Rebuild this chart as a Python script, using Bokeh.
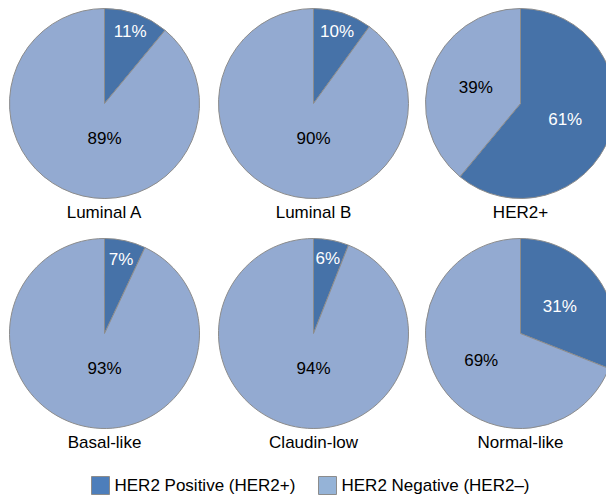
import math
from bokeh.plotting import figure
from bokeh.models import Range1d
from bokeh.core.properties import value
from bokeh.embed import file_html
from bokeh.resources import INLINE

# ---- data ----
subtypes = ["Luminal A", "Luminal B", "HER2+", "Basal-like", "Claudin-low", "Normal-like"]
her2_positive = [11, 10, 61, 7, 6, 31]
her2_negative = [89, 90, 39, 93, 94, 69]
series_names = ["HER2 Positive (HER2+)", "HER2 Negative (HER2\u2013)"]

# ---- style ----
DARK = "#4672A8"
LIGHT = "#93AAD1"
LEG_DARK = "#4D7EBB"
LEG_LIGHT = "#95B3D7"
EDGE = "#8C8C8C"
FONT = value("Liberation Sans")
W, H = 606, 496

p = figure(width=W, height=H, output_backend="svg", toolbar_location=None,
           x_range=Range1d(0, W), y_range=Range1d(8, 8 + H), min_border=0)
p.axis.visible = False
p.grid.visible = False
p.outline_line_color = None
p.background_fill_color = "white"
p.border_fill_color = "white"

R = 95
col_x = [104, 313, 520]
row_y = [401, 171]

wx, wy, ws, we, wc = [], [], [], [], []
lx, ly, lt, lc = [], [], [], []
cx_l, cy_l = [], []
for i, name in enumerate(subtypes):
    cx = col_x[i % 3]
    cy = row_y[i // 3]
    pos = her2_positive[i] / (her2_positive[i] + her2_negative[i])
    top = math.pi / 2
    # dark slice clockwise from 12 o'clock
    wx += [cx, cx]; wy += [cy, cy]
    ws += [top - pos * 2 * math.pi, top]
    we += [top, top - pos * 2 * math.pi]
    wc += [DARK, LIGHT]
    for frac, start_cw, txt, col in [
        (pos, 0.0, her2_positive[i], "white"),
        (1 - pos, pos, her2_negative[i], "black"),
    ]:
        mid = (start_cw + frac / 2) * 2 * math.pi  # clockwise from top
        if frac < 0.2:
            d = 0.8 * R
            x = cx + d * math.sin(mid); y = cy + d * math.cos(mid)
        elif frac > 0.8:
            x = cx; y = cy - 0.37 * R
        else:
            d = 0.5 * R
            x = cx + d * math.sin(mid); y = cy + d * math.cos(mid)
        lx.append(x); ly.append(y); lt.append(f"{txt}%"); lc.append(col)
    cx_l.append(cx); cy_l.append(cy - R - 14)

p.wedge(x=wx, y=wy, radius=R, start_angle=ws, end_angle=we,
        fill_color=wc, line_color=EDGE, line_width=1)

p.text(x=lx, y=ly, text=lt, text_color=lc, text_font=FONT,
       text_font_size="17px", text_align="center", text_baseline="middle")
p.text(x=cx_l, y=cy_l, text=subtypes, text_color="black", text_font=FONT,
       text_font_size="17px", text_align="center", text_baseline="middle")

# legend (manual)
leg_sq_x = [100, 327]
leg_y = 19
p.rect(x=leg_sq_x, y=[leg_y, leg_y], width=18, height=18,
       fill_color=[LEG_DARK, LEG_LIGHT], line_color=EDGE, line_width=1)
p.text(x=[sx + 14 for sx in leg_sq_x], y=[leg_y, leg_y], text=series_names,
       text_color="black", text_font=FONT, text_font_size="17px",
       text_align="left", text_baseline="middle")

open("out.html", "w").write(file_html(p, INLINE))
